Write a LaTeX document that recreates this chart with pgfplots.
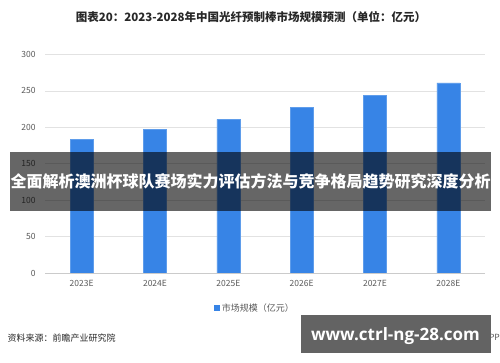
\documentclass[border=0pt]{standalone}
\usepackage{pgfplots}
\pgfplotsset{compat=1.18}
\usepackage{fontspec}
\setmainfont{Noto Sans CJK SC}
\newfontfamily\wmfont{Open Sans}
\definecolor{barblue}{RGB}{55,132,230}
\definecolor{gridgray}{RGB}{226,226,226}
\definecolor{ticktext}{RGB}{89,89,89}
\definecolor{titletext}{RGB}{40,40,40}
\begin{document}
\begin{tikzpicture}[x=1pt,y=1pt]
\useasboundingbox[fill=white] (0,0) rectangle (500,362);
\begin{axis}[
  at={(45pt,89pt)}, anchor=south west,
  scale only axis, width=440pt, height=218.5pt,
  xmin=-0.5, xmax=5.5, ymin=0, ymax=300,
  ytick={0,50,...,300},
  xtick=data,
  xticklabels={2023E,2024E,2025E,2026E,2027E,2028E},
  ymajorgrids, grid style={gridgray, line width=0.8pt},
  axis line style={draw=none},
  major tick length=0pt,
  tick label style={font=\fontsize{8.5}{10}\selectfont, text=ticktext},
  yticklabel style={xshift=-6pt},
  xticklabel style={yshift=-4pt},
  /pgf/number format/assume math mode=true,
  ybar, bar width=23pt, bar shift=0pt,
  legend style={at={(0.477,-0.16)}, anchor=center, draw=none,
    font=\fontsize{9}{11}\selectfont\color{ticktext}, inner sep=0pt},
  legend image code/.code={\fill[barblue] (0pt,-2.7pt) rectangle (5.4pt,2.7pt);},
]
\addplot[fill=barblue, draw=barblue!80!white, line width=0.4pt] coordinates {
  (0,183.5) (1,197) (2,211) (3,227) (4,244) (5,261)};
\addlegendentry{市场规模（亿元）}
\draw[gridgray!90!black, line width=1pt] (axis cs:-0.5,0) -- (axis cs:5.5,0);
\end{axis}
% title
\node[font=\fontsize{11.5}{13}\selectfont\bfseries, text=titletext] at (251,345) {图表20：2023-2028年中国光纤预制棒市场规模预测（单位：亿元）};
% source
\node[font=\fontsize{9}{10}\selectfont, text=titletext, anchor=west] at (4,24) {资料来源：前瞻产业研究院};
\node[font=\fontsize{8.5}{10}\selectfont, text=ticktext, anchor=east, inner sep=0pt] at (500,25) {APP};
% overlay banner
\fill[black, opacity=0.6] (10,151) rectangle (491,210);
\node[font=\fontsize{16}{18}\selectfont\bfseries, text=white] at (250.5,181) {全面解析澳洲杯球队赛场实力评估方法与竞争格局趋势研究深度分析};
% watermark box
\fill[black!61] (301,9) rectangle (491,47);
\node[font=\wmfont\fontsize{17}{19}\selectfont\bfseries, text=white] at (395.5,26) {www.ctrl-ng-28.com};
\end{tikzpicture}
\end{document}
